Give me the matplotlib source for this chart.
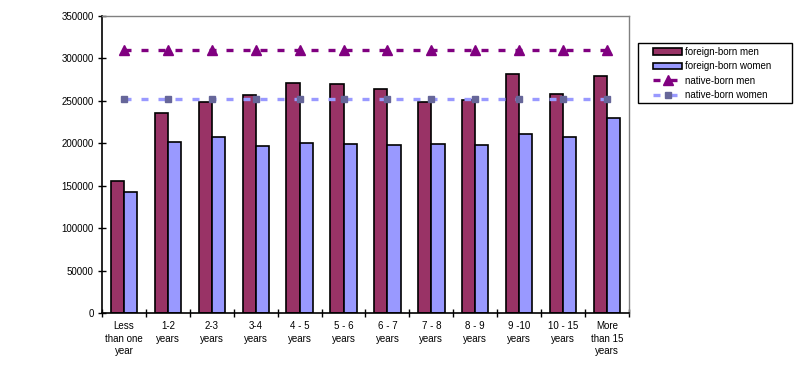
import matplotlib
matplotlib.use("Agg")
import matplotlib.pyplot as plt
from matplotlib.patches import Rectangle
import numpy as np

plt.rcParams['font.family'] = ['Liberation Sans', 'DejaVu Sans']

categories = ["Less\nthan one\nyear", "1-2\nyears", "2-3\nyears", "3-4\nyears",
              "4 - 5\nyears", "5 - 6\nyears", "6 - 7\nyears", "7 - 8\nyears",
              "8 - 9\nyears", "9 -10\nyears", "10 - 15\nyears", "More\nthan 15\nyears"]
foreign_men = [156000, 235800, 248800, 256600, 271100, 270000, 264400,
               248400, 251100, 282100, 258500, 279400]
foreign_women = [142400, 202000, 207200, 196600, 200900, 199300, 198500,
                 199700, 197800, 210700, 207600, 229600]
native_men = [310000] * 12
native_women = [252000] * 12

fig = plt.figure(figsize=(7.98, 3.66), dpi=100)
ax = fig.add_axes([0.1278, 0.1448, 0.6604, 0.8115])

x = np.arange(len(categories))
w = 0.3
b1 = ax.bar(x - w/2, foreign_men, w, color="#993366", edgecolor="black", linewidth=1.2,
            label="foreign-born men", zorder=2)
b2 = ax.bar(x + w/2, foreign_women, w, color="#9999FF", edgecolor="black", linewidth=1.2,
            label="foreign-born women", zorder=2)
l1, = ax.plot(x, native_men, color="#800080", linestyle=(0, (2.1, 3.0)), linewidth=2.4,
              marker="^", markersize=7, markeredgecolor="#800080", label="native-born men", zorder=3)
l2, = ax.plot(x, native_women, color="#9999FF", linestyle=(0, (2.1, 3.0)), linewidth=2.4,
              marker="s", markersize=4.5, markerfacecolor="#666699", markeredgecolor="#666699",
              label="native-born women", zorder=3)

ax.set_xlim(-0.5, len(categories) - 0.5)
ax.set_ylim(0, 350000)
ax.set_yticks(np.arange(0, 350001, 50000))
ax.set_yticklabels([str(v) for v in range(0, 350001, 50000)], fontsize=7)
ax.set_xticks(x)
ax.set_xticklabels(categories, fontsize=7, linespacing=1.3)
ax.set_xticks(np.arange(-0.5, len(categories), 1), minor=True)
ax.tick_params(axis="x", which="major", length=0, pad=6)
ax.tick_params(axis="x", which="minor", length=6, direction="inout", width=1)
ax.tick_params(axis="y", length=6, width=1, direction="inout", pad=3)

for s in ["left", "bottom"]:
    ax.spines[s].set_color("black")
    ax.spines[s].set_linewidth(1.2)
for s in ["top", "right"]:
    ax.spines[s].set_color("#808080")
    ax.spines[s].set_linewidth(1)

# legend frame drawn separately so the entries can sit inset like the original
fig.patches.append(Rectangle((638/798, 1 - 103/366), 154/798, 60/366,
                             transform=fig.transFigure, fill=False,
                             edgecolor="black", linewidth=1))
leg = fig.legend([b1, b2, l1, l2],
                 ["foreign-born men", "foreign-born women", "native-born men", "native-born women"],
                 loc="upper left", bbox_to_anchor=(650/798, 1 - 44/366),
                 fontsize=7, frameon=False, handlelength=3.0, handleheight=0.6,
                 handletextpad=0.3, borderpad=0.3, labelspacing=0.45, borderaxespad=0)

fig.savefig("out.png", dpi=100)
